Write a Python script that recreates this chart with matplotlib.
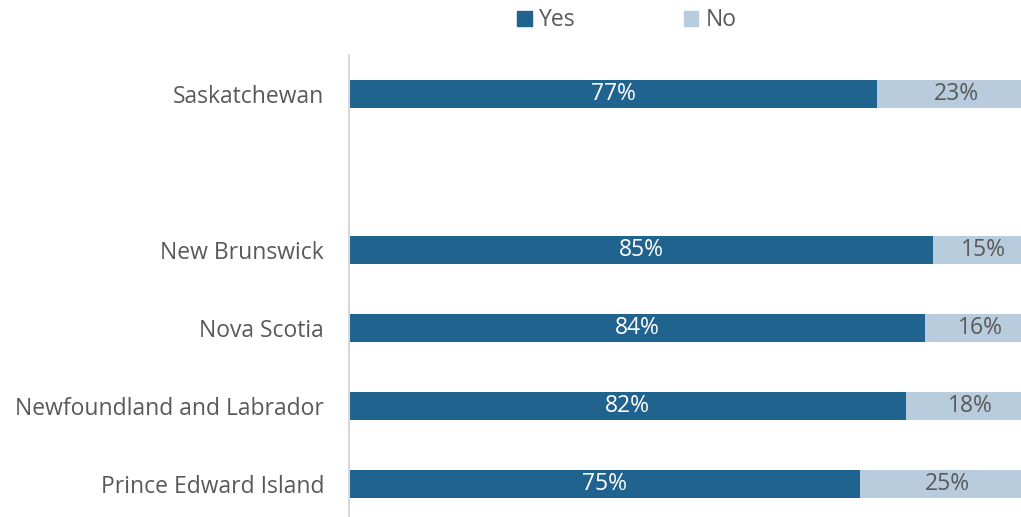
import matplotlib
matplotlib.use("Agg")
import matplotlib.pyplot as plt
from matplotlib.patches import Patch

plt.rcParams['font.family'] = ['Open Sans', 'DejaVu Sans']

# Data (top to bottom; None = blank slot)
provinces = ['Saskatchewan', '', 'New Brunswick', 'Nova Scotia',
             'Newfoundland and Labrador', 'Prince Edward Island']
yes_share = [77.0, None, 85.1, 84.0, 81.2, 74.5]   # bar lengths as drawn
no_share = [23.0, None, 14.9, 16.0, 18.8, 25.5]
yes_labels = ['77%', '', '85%', '84%', '82%', '75%']
no_labels = ['23%', '', '15%', '16%', '18%', '25%']

yes_color = '#21638F'
no_color = '#B9CCDE'
text_color = '#595959'
fs = 16.5

fig = plt.figure(figsize=(10.21, 5.17), dpi=100)
# axes extends past the right and bottom edges of the figure, as in the reference
ax = fig.add_axes([349 / 1021, -6 / 517, 686 / 1021, 468 / 517])

for i in range(len(provinces)):
    y, n = yes_share[i], no_share[i]
    if y is None:
        continue
    ax.barh(i, y, height=0.35, color=yes_color)
    ax.barh(i, n, left=y, height=0.35, color=no_color)
    ax.text(y / 2, i, yes_labels[i], ha='center', va='center', color='white', fontsize=fs)
    ax.text(y + n / 2, i, no_labels[i], ha='center', va='center', color=text_color, fontsize=fs)

ax.set_xlim(0, 100)
ax.set_ylim(5.5, -0.5)
ax.set_yticks(range(len(provinces)))
ax.set_yticklabels(provinces, fontsize=fs, color=text_color)
ax.tick_params(axis='y', length=0, pad=18)
ax.set_xticks([])
for side in ['top', 'right', 'bottom']:
    ax.spines[side].set_visible(False)
ax.spines['left'].set_color('#D9D9D9')
ax.spines['left'].set_linewidth(1.5)

handles = [Patch(color=yes_color, label='Yes'), Patch(color=no_color, label='No')]
fig.legend(handles=handles, loc='upper center', bbox_to_anchor=(0.614, 1.024), ncol=2,
           frameon=False, fontsize=fs, labelcolor=text_color, handlelength=0.65,
           handleheight=0.65, handletextpad=0.3, columnspacing=4.7)

fig.savefig('out.png', dpi=100)
